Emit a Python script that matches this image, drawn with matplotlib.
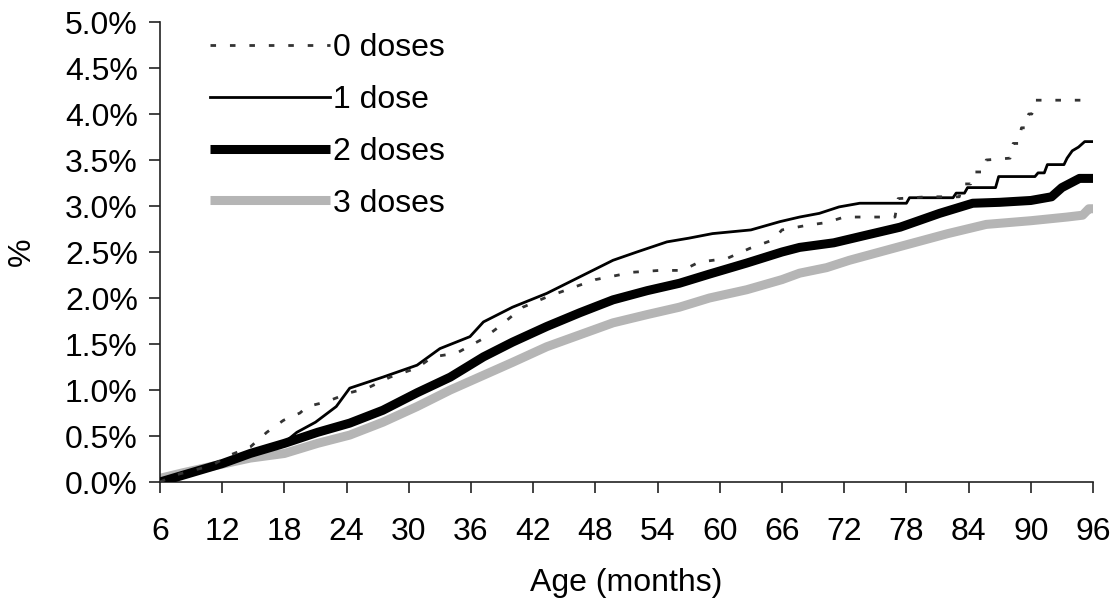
import matplotlib
matplotlib.use("Agg")
import matplotlib.pyplot as plt
from matplotlib.ticker import FuncFormatter

# Cumulative incidence (%), by age in months
ages_0 = [6, 7.6, 9, 11, 12.7, 14.7, 16.3, 17.9, 19.5, 20.2, 22, 24.3, 26, 28.2,
          30.8, 32.3, 34.6, 37.2, 38.5, 41, 43.3, 46, 48, 51.6, 54.2, 56.4, 58,
          60.7, 62.9, 65.1, 66, 68.4, 70.3, 72, 76.9, 77.2, 80, 83.1, 83.4, 84.2,
          84.5, 85.4, 85.7, 88.0, 88.3, 88.8, 89.1, 89.5, 89.8, 90.1, 90.4, 95.4]
vals_0 = [0.0, 0.08, 0.12, 0.18, 0.29, 0.38, 0.54, 0.67, 0.75, 0.82, 0.87, 0.97,
          1.02, 1.14, 1.24, 1.36, 1.40, 1.56, 1.67, 1.90, 2.01, 2.12, 2.20, 2.28,
          2.30, 2.30, 2.39, 2.43, 2.54, 2.63, 2.74, 2.79, 2.82, 2.88, 2.88, 3.08,
          3.10, 3.10, 3.24, 3.24, 3.37, 3.37, 3.50, 3.52, 3.68, 3.68, 3.85, 3.85,
          4.00, 4.00, 4.15, 4.15]

ages_1 = [6, 9, 12.5, 15, 17.9, 19.2, 21, 23, 24.3, 27.5, 30.8, 33, 35.9, 37.2,
          38.6, 40, 43.3, 46.5, 49.7, 52, 54.9, 57, 59.3, 63, 65.8, 67.7, 69.6,
          71.5, 73.5, 78, 78.3, 82.5, 82.8, 83.6, 83.9, 86.6, 86.9, 90.4, 90.7,
          91.3, 91.6, 93.2, 93.5, 94.0, 94.6, 95.2, 96]
vals_1 = [0.0, 0.12, 0.24, 0.32, 0.42, 0.54, 0.65, 0.82, 1.02, 1.14, 1.27, 1.45,
          1.58, 1.74, 1.82, 1.90, 2.05, 2.23, 2.41, 2.50, 2.61, 2.65, 2.70, 2.74,
          2.83, 2.88, 2.92, 2.99, 3.03, 3.03, 3.09, 3.09, 3.14, 3.14, 3.20, 3.20,
          3.32, 3.32, 3.36, 3.36, 3.45, 3.45, 3.52, 3.60, 3.64, 3.70, 3.70]

ages_2 = [6, 9, 12, 14.7, 18, 21.2, 24.3, 27.5, 30.8, 34, 37.2, 40, 43.3, 46.5,
          49.7, 53, 56.1, 59, 62.6, 66, 67.7, 71, 74, 77.4, 81.2, 84.4, 87, 90,
          92, 93, 94.7, 96]
vals_2 = [0.0, 0.10, 0.20, 0.31, 0.42, 0.54, 0.64, 0.78, 0.97, 1.14, 1.36, 1.52,
          1.69, 1.84, 1.98, 2.08, 2.16, 2.26, 2.38, 2.50, 2.55, 2.60, 2.68, 2.77,
          2.92, 3.03, 3.04, 3.06, 3.10, 3.20, 3.30, 3.30]

ages_3 = [6, 8.2, 11, 14.7, 18, 21.2, 24.3, 27.5, 30.8, 34, 37.2, 40, 43.3, 46.5,
          49.7, 53, 56.1, 59, 62.6, 66, 67.7, 70.3, 72.5, 77.4, 82, 85.7, 90,
          93.5, 95, 95.6, 96]
vals_3 = [0.04, 0.10, 0.17, 0.26, 0.31, 0.42, 0.51, 0.65, 0.82, 1.00, 1.16, 1.30,
          1.47, 1.60, 1.73, 1.82, 1.90, 2.00, 2.09, 2.20, 2.27, 2.33, 2.41, 2.56,
          2.70, 2.80, 2.84, 2.88, 2.90, 2.97, 2.97]

x_ticks = list(range(6, 97, 6))
y_ticks = [0.0, 0.5, 1.0, 1.5, 2.0, 2.5, 3.0, 3.5, 4.0, 4.5, 5.0]

plt.rcParams['font.family'] = ['Liberation Sans', 'DejaVu Sans']
FS = 23

fig = plt.figure(figsize=(11.16, 6.07), dpi=100)
ax = fig.add_axes([160 / 1116, 1 - 482 / 607, 933 / 1116, 460 / 607])

ax.plot(ages_3, vals_3, color='#b5b5b5', lw=6.5, solid_capstyle='butt',
        solid_joinstyle='round', label='3 doses', zorder=2)
ax.plot(ages_2, vals_2, color='black', lw=6.5, solid_capstyle='butt',
        solid_joinstyle='round', label='2 doses', zorder=3)
ax.plot(ages_1, vals_1, color='black', lw=2.0, label='1 dose', zorder=4)
ax.plot(ages_0, vals_0, color='#333333', lw=2.0, dashes=(2, 5),
        label='0 doses', zorder=5)

ax.set_xlim(6, 96)
ax.set_ylim(0, 5.0)
ax.set_xticks(x_ticks)
ax.set_yticks(y_ticks)
ax.yaxis.set_major_formatter(FuncFormatter(lambda v, p: f"{v:.1f}%"))

for side in ('top', 'right'):
    ax.spines[side].set_visible(False)
for side in ('left', 'bottom'):
    ax.spines[side].set_linewidth(1.2)
    ax.spines[side].set_color('#222222')

ax.tick_params(axis='x', direction='out', length=8, width=1.2, pad=17,
               labelsize=FS, colors='#222222', labelcolor='black')
ax.tick_params(axis='y', direction='out', length=8, width=1.2, pad=8,
               labelsize=FS, colors='#222222', labelcolor='black')

ax.set_xlabel('Age (months)', fontsize=FS, labelpad=15)
ax.set_ylabel('%', fontsize=FS, labelpad=20)

handles, labels = ax.get_legend_handles_labels()
order = [3, 2, 1, 0]
ax.legend([handles[i] for i in order], [labels[i] for i in order],
          loc='upper left', bbox_to_anchor=(0.054, 0.975), frameon=False,
          fontsize=FS, handlelength=3.75, handletextpad=0.1, labelspacing=0.68,
          borderpad=0, borderaxespad=0)

fig.savefig('out.png', dpi=100)
